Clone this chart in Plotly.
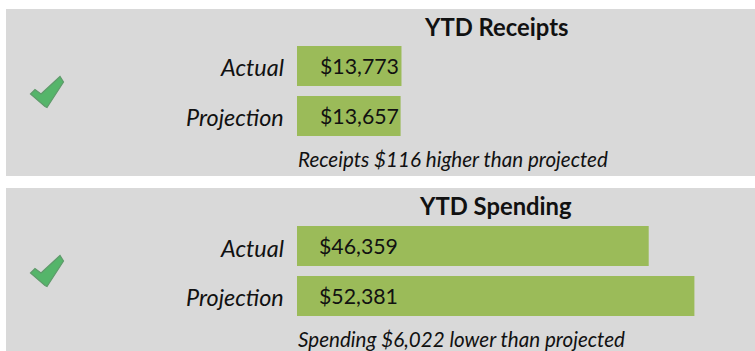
import plotly.graph_objects as go

W, H = 755, 351
FONT = "Lato"
PANEL = "#d9d9d9"
BAR = "#9bbb59"

categories = ["Actual", "Projection"]
receipts = [13773, 13657]
spending = [46359, 52381]
receipts_labels = ["$13,773", "$13,657"]
spending_labels = ["$46,359", "$52,381"]
receipts_title = "YTD Receipts"
spending_title = "YTD Spending"
receipts_note = "Receipts $116 higher than projected"
spending_note = "Spending $6,022 lower than projected"

PX_PER_USD = 397.4 / 52381
X0 = 297
X_RIGHT = 755


def py(y):
    return 1 - y / H


fig = go.Figure()
panels = [
    ("x", "y", receipts, receipts_labels),
    ("x2", "y2", spending, spending_labels),
]
for xa, ya, vals, labels in panels:
    fig.add_trace(go.Bar(
        x=vals, y=categories, orientation="h", xaxis=xa, yaxis=ya,
        marker=dict(color=BAR, line=dict(width=0)),
        width=0.8,
        text=labels, textposition="none", hoverinfo="skip", showlegend=False,
    ))

axis_x = dict(range=[0, (X_RIGHT - X0) / PX_PER_USD], visible=False, fixedrange=True)
fig.update_layout(
    width=W, height=H, margin=dict(l=0, r=0, t=0, b=0),
    paper_bgcolor="white", plot_bgcolor=PANEL, bargap=0.2,
    xaxis=dict(domain=[X0 / W, 1], anchor="y", **axis_x),
    xaxis2=dict(domain=[X0 / W, 1], anchor="y2", **axis_x),
    yaxis=dict(domain=[py(141), py(41)], anchor="x", autorange="reversed",
               showgrid=False, zeroline=False, showline=False, ticks="",
               showticklabels=False, fixedrange=True),
    yaxis2=dict(domain=[py(321), py(221)], anchor="x2", autorange="reversed",
                showgrid=False, zeroline=False, showline=False, ticks="",
                showticklabels=False, fixedrange=True),
    shapes=[
        dict(type="rect", xref="paper", yref="paper", layer="below",
             x0=6 / W, x1=1, y0=py(176), y1=py(9), fillcolor=PANEL, line_width=0),
        dict(type="rect", xref="paper", yref="paper", layer="below",
             x0=6 / W, x1=1, y0=py(351), y1=py(188), fillcolor=PANEL, line_width=0),
    ],
)

annotations = []


def label(x, y, text, size, anchor="left", italic=False, bold=False):
    annotations.append(dict(
        xref="paper", yref="paper", x=x / W, y=py(y), text=text, showarrow=False,
        xanchor=anchor, yanchor="middle", align=anchor,
        font=dict(family=FONT, size=size, color="#111111",
                  style="italic" if italic else "normal",
                  weight="bold" if bold else "normal"),
    ))


label(496, 27, receipts_title, 23.8, "center", bold=True)
label(495, 206, spending_title, 23.8, "center", bold=True)
for (cat, y) in zip(categories, (67, 117)):
    label(286, y, cat, 23.4, "right", italic=True)
for (cat, y) in zip(categories, (248, 297)):
    label(286, y, cat, 23.4, "right", italic=True)
for (t, y) in zip(receipts_labels, (66, 116)):
    label(401, y, t, 21.3, "right")
for (t, y) in zip(spending_labels, (246, 296)):
    label(317, y, t, 21.3, "left")
label(296, 159, receipts_note, 20.6, "left", italic=True)
label(296, 339, spending_note, 20.6, "left", italic=True)
fig.update_layout(annotations=annotations)


def check(dy):
    pts = [(30.5, 94), (35, 89.5), (41, 94), (60, 76.5), (63.5, 82), (47, 107.5), (45, 106.5)]
    d = "M " + " L ".join(f"{x / W:.5f},{py(y + dy):.5f}" for x, y in pts) + " Z"
    return dict(type="path", xref="paper", yref="paper", path=d,
                fillcolor="#55b56a", line=dict(color="#5f9a6b", width=1.2), layer="above")


fig.update_layout(shapes=list(fig.layout.shapes) + [check(0), check(179)])

fig.write_html("out.html", config={"displayModeBar": False},
               post_script="document.body.style.margin='0';document.body.style.overflow='hidden';")
